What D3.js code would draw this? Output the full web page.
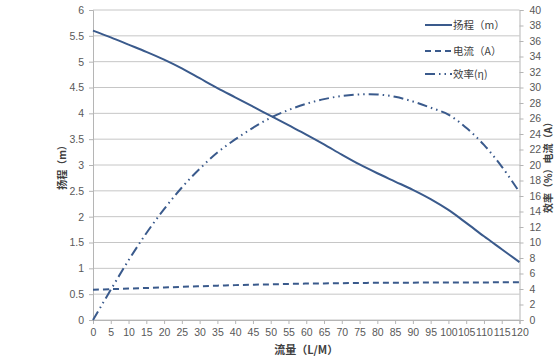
<!DOCTYPE html>
<html><head><meta charset="utf-8">
<script src="https://cdn.jsdelivr.net/npm/d3@7"></script>
<style>
body{margin:0;background:#fff;}
svg{display:block;}
</style></head>
<body><svg id="c" width="560" height="360"></svg>
<script>
const flow = [0,5,10,15,20,25,30,35,40,45,50,55,60,65,70,75,80,85,90,95,100,105,110,115,120];
const head = [5.6,5.47,5.33,5.19,5.04,4.87,4.68,4.49,4.31,4.13,3.95,3.77,3.59,3.4,3.2,3.01,2.84,2.68,2.52,2.34,2.13,1.88,1.62,1.37,1.12];
const current = [3.9,3.98,4.05,4.13,4.2,4.28,4.35,4.43,4.5,4.55,4.6,4.65,4.7,4.72,4.75,4.78,4.8,4.81,4.82,4.83,4.84,4.85,4.85,4.86,4.86];
const efficiency = [0,3.9,7.7,11.2,14.3,17.1,19.5,21.6,23.3,24.8,26.1,27.1,27.9,28.5,28.9,29.1,29.1,28.8,28.2,27.4,26.5,24.8,22.6,19.8,16.5];
const leftTicks = [0,0.5,1,1.5,2,2.5,3,3.5,4,4.5,5,5.5,6];
const rightTicks = d3.range(0,41,2);
const xTicks = d3.range(0,121,5);
const seriesNames = ["扬程（m）","电流（A）","效率(η)"];
const xTitle = "流量（L/M）", yTitle = "扬程（m）", y2Title = "效率（%）电流（A）";

const svg = d3.select("#c");
const L=93, R=519.5, T=10, B=320;
const x = d3.scaleLinear().domain([0,120]).range([L,R]);
const y = d3.scaleLinear().domain([0,6]).range([B,T]);
const y2 = d3.scaleLinear().domain([0,40]).range([B,T]);
const col = "#3a5a8c", grid="#c6c6c6", axc="#b5b5b5", txt="#595959";
const font = "'Liberation Sans', Arial, sans-serif";
const cjk = "'Noto Sans CJK SC', sans-serif";

// gridlines
svg.append("g").selectAll("line").data(leftTicks).join("line")
  .attr("x1",L).attr("x2",R).attr("y1",d=>y(d)).attr("y2",d=>y(d))
  .attr("stroke",grid).attr("stroke-width",1);

// axes
const gx = svg.append("g").attr("transform",`translate(0,${B})`)
  .call(d3.axisBottom(x).tickValues(xTicks).tickSize(4).tickPadding(5).tickFormat(d3.format("~g")));
const gy = svg.append("g").attr("transform",`translate(${L},0)`)
  .call(d3.axisLeft(y).tickValues(leftTicks).tickSize(4).tickPadding(5).tickFormat(d3.format("~g")));
const gy2 = svg.append("g").attr("transform",`translate(${R},0)`)
  .call(d3.axisRight(y2).tickValues(rightTicks).tickSize(4).tickPadding(6).tickFormat(d3.format("~g")));
[gx,gy,gy2].forEach(g=>{
  g.selectAll("path,line").attr("stroke",axc);
  g.selectAll("text").attr("fill",txt).attr("font-family",font).attr("font-size",10.5);
});

// lines
const mk = (ys,sc)=>d3.line().x((d,i)=>x(flow[i])).y(d=>sc(d)).curve(d3.curveCatmullRom.alpha(0.5))(ys);
svg.append("path").attr("d",mk(head,y)).attr("fill","none").attr("stroke",col).attr("stroke-width",2);
svg.append("path").attr("d",mk(current,y2)).attr("fill","none").attr("stroke",col).attr("stroke-width",2).attr("stroke-dasharray","6,4");
svg.append("path").attr("d",mk(efficiency,y2)).attr("fill","none").attr("stroke",col).attr("stroke-width",2).attr("stroke-dasharray","10,4,1.5,4,1.5,4");

// legend
const dashes = [null,"6,4","10,4,1.5,4,1.5,4"];
const lg = svg.append("g");
const ly = [25,51,74];
seriesNames.forEach((n,i)=>{
  const l = lg.append("line").attr("x1",425).attr("x2",452).attr("y1",ly[i]).attr("y2",ly[i])
    .attr("stroke",col).attr("stroke-width",2);
  if(dashes[i]) l.attr("stroke-dasharray",dashes[i]);
  lg.append("text").attr("x",453).attr("y",ly[i]+4).text(n)
    .attr("font-family",cjk).attr("font-size",10.5).attr("fill","#404040");
});

// titles
svg.append("text").attr("x",(L+R)/2).attr("y",354).attr("text-anchor","middle")
  .attr("font-family",cjk).attr("font-weight","bold").attr("font-size",11).attr("fill","#404040").text(xTitle);
svg.append("text").attr("transform",`translate(66,${(T+B)/2}) rotate(-90)`).attr("text-anchor","middle")
  .attr("font-family",cjk).attr("font-weight","bold").attr("font-size",10).attr("fill","#404040").text(yTitle);
svg.append("text").attr("transform",`translate(552,${(T+B)/2}) rotate(-90)`).attr("text-anchor","middle")
  .attr("font-family",cjk).attr("font-weight","bold").attr("font-size",10).attr("fill","#404040").text(y2Title);
</script></body></html>
